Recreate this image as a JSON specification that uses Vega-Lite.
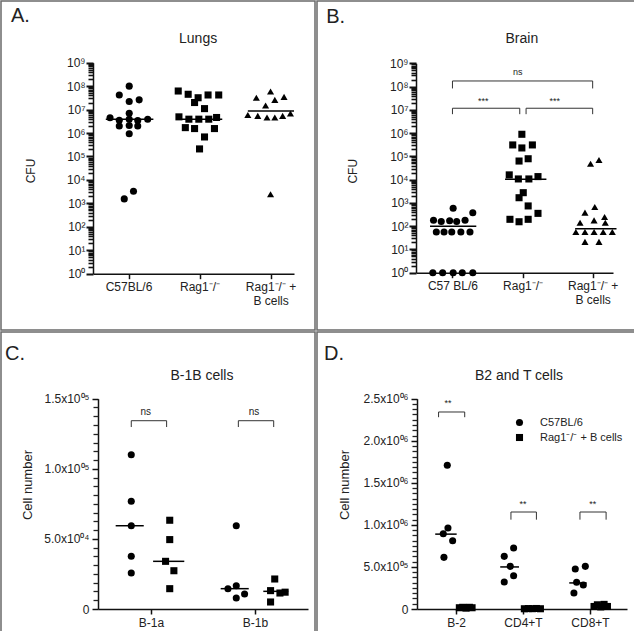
{
  "$schema": "https://vega.github.io/schema/vega-lite/v6.json",
  "padding": 0,
  "spacing": 0,
  "background": "white",
  "config": {
    "font": "Liberation Sans",
    "view": {"stroke": "#6a6a6a", "strokeWidth": 1.5},
    "concat": {"spacing": 0},
    "axis": {"labelFont": "Liberation Sans", "labelColor": "#222", "domainColor": "#111", "tickColor": "#111", "grid": false, "labelOverlap": false, "labelFlush": false, "labelBound": false, "domainWidth": 1.5, "tickWidth": 1.5, "title": null},
    "text": {"font": "Liberation Sans", "color": "#222"}
  },
  "resolve": {"scale": {"shape": "independent"}, "legend": {"shape": "independent"}},
  "vconcat": [
    {
      "spacing": 0,
      "resolve": {"scale": {"shape": "independent"}, "legend": {"shape": "independent"}},
      "hconcat": [
        {
          "width": 314,
          "height": 329,
          "resolve": {"axis": {"y": "independent"}},
          "encoding": {
            "x": {"field": "pos", "type": "quantitative",
              "scale": {"domain": [0.5, 3.33], "range": [92, 293], "nice": false, "zero": false},
              "axis": {"orient": "bottom", "offset": -56.3, "values": [1, 2, 3], "tickSize": 5, "tickColor": "#111", "labelFontSize": 12, "labelPadding": 3,
                "labelExpr": "datum.value == 1 ? 'C57BL/6' : datum.value == 2 ? 'Rag1⁻/⁻' : ['Rag1⁻/⁻ +', 'B cells']"}},
            "y": {"field": "val", "type": "quantitative",
              "scale": {"type": "log", "domain": [1, 1e9], "range": [272.7, 61.7], "nice": false},
              "axis": null}
          },
          "layer": [
            {
              "data": {"values": [
                {"group": "C57BL/6", "pos": 1.01, "val": 1.0e8},
                {"group": "C57BL/6", "pos": 0.87, "val": 4.2e7},
                {"group": "C57BL/6", "pos": 1.15, "val": 2.6e7},
                {"group": "C57BL/6", "pos": 1.01, "val": 2.2e7},
                {"group": "C57BL/6", "pos": 1.01, "val": 6.9e6},
                {"group": "C57BL/6", "pos": 0.74, "val": 4.5e6},
                {"group": "C57BL/6", "pos": 0.87, "val": 3.5e6},
                {"group": "C57BL/6", "pos": 1.01, "val": 3.9e6},
                {"group": "C57BL/6", "pos": 1.13, "val": 3.4e6},
                {"group": "C57BL/6", "pos": 1.27, "val": 3.9e6},
                {"group": "C57BL/6", "pos": 0.87, "val": 2.0e6},
                {"group": "C57BL/6", "pos": 1.01, "val": 2.1e6},
                {"group": "C57BL/6", "pos": 1.13, "val": 2.0e6},
                {"group": "C57BL/6", "pos": 1.01, "val": 9.3e5},
                {"group": "C57BL/6", "pos": 0.94, "val": 1.55e3},
                {"group": "C57BL/6", "pos": 1.07, "val": 3.3e3},
                {"group": "Rag1⁻/⁻", "pos": 1.70, "val": 6.2e7},
                {"group": "Rag1⁻/⁻", "pos": 1.84, "val": 4.5e7},
                {"group": "Rag1⁻/⁻", "pos": 1.98, "val": 3.2e7},
                {"group": "Rag1⁻/⁻", "pos": 2.12, "val": 4.2e7},
                {"group": "Rag1⁻/⁻", "pos": 2.27, "val": 4.2e7},
                {"group": "Rag1⁻/⁻", "pos": 1.93, "val": 2.0e7},
                {"group": "Rag1⁻/⁻", "pos": 2.07, "val": 1.1e7},
                {"group": "Rag1⁻/⁻", "pos": 1.71, "val": 4.9e6},
                {"group": "Rag1⁻/⁻", "pos": 1.85, "val": 3.9e6},
                {"group": "Rag1⁻/⁻", "pos": 1.99, "val": 3.9e6},
                {"group": "Rag1⁻/⁻", "pos": 2.13, "val": 3.9e6},
                {"group": "Rag1⁻/⁻", "pos": 2.24, "val": 4.6e6},
                {"group": "Rag1⁻/⁻", "pos": 1.80, "val": 1.7e6},
                {"group": "Rag1⁻/⁻", "pos": 1.93, "val": 1.55e6},
                {"group": "Rag1⁻/⁻", "pos": 2.21, "val": 1.55e6},
                {"group": "Rag1⁻/⁻", "pos": 2.07, "val": 6.8e5},
                {"group": "Rag1⁻/⁻", "pos": 2.00, "val": 2.1e5},
                {"group": "Rag1⁻/⁻ + B cells", "pos": 3.00, "val": 5.9e7},
                {"group": "Rag1⁻/⁻ + B cells", "pos": 2.80, "val": 3.2e7},
                {"group": "Rag1⁻/⁻ + B cells", "pos": 3.06, "val": 2.6e7},
                {"group": "Rag1⁻/⁻ + B cells", "pos": 3.19, "val": 3.5e7},
                {"group": "Rag1⁻/⁻ + B cells", "pos": 2.93, "val": 1.5e7},
                {"group": "Rag1⁻/⁻ + B cells", "pos": 2.68, "val": 5.9e6},
                {"group": "Rag1⁻/⁻ + B cells", "pos": 2.82, "val": 5.4e6},
                {"group": "Rag1⁻/⁻ + B cells", "pos": 2.95, "val": 4.6e6},
                {"group": "Rag1⁻/⁻ + B cells", "pos": 3.06, "val": 4.6e6},
                {"group": "Rag1⁻/⁻ + B cells", "pos": 3.17, "val": 5.4e6},
                {"group": "Rag1⁻/⁻ + B cells", "pos": 3.28, "val": 6.8e6},
                {"group": "Rag1⁻/⁻ + B cells", "pos": 3.00, "val": 2.45e3}
              ]},
              "mark": {"type": "point", "filled": true, "color": "#000", "opacity": 1, "size": 50},
              "encoding": {
                "y": {"field": "val", "type": "quantitative",
                  "scale": {"type": "log", "domain": [1, 1e9], "range": [272.7, 61.7], "nice": false},
                  "axis": {"orient": "left", "offset": -92, "labelFontSize": 12, "labelPadding": 1, "tickSize": 7, "tickWidth": 2, "tickColor": "#111",
                    "values": [1, 10, 100, 1000, 1e4, 1e5, 1e6, 1e7, 1e8, 1e9],
                    "labelExpr": "'10' + substring('⁰¹²³⁴⁵⁶⁷⁸⁹', round(log(datum.value)/LN10), round(log(datum.value)/LN10) + 1)"}},
                "shape": {"field": "group", "type": "nominal", "legend": null,
                  "scale": {"domain": ["C57BL/6", "Rag1⁻/⁻", "Rag1⁻/⁻ + B cells"], "range": ["circle", "square", "triangle-up"]}}
              }
            },
            {
              "data": {"values": [
                {"pos": 0.68, "pos2": 1.35, "val": 3.9e6},
                {"pos": 1.69, "pos2": 2.32, "val": 3.9e6},
                {"pos": 2.68, "pos2": 3.33, "val": 8.7e6}
              ]},
              "mark": {"type": "rule", "color": "#000", "strokeWidth": 1.5},
              "encoding": {
                "x2": {"field": "pos2"},
                "y": {"field": "val", "type": "quantitative",
                  "scale": {"type": "log", "domain": [1, 1e9], "range": [272.7, 61.7], "nice": false},
                  "axis": {"orient": "left", "offset": -92, "labels": false, "domain": false, "tickSize": 5, "tickWidth": 1.6, "tickColor": "#111",
                    "values": [2,3,4,5,6,7,8,9,20,30,40,50,60,70,80,90,200,300,400,500,600,700,800,900,2000,3000,4000,5000,6000,7000,8000,9000,2e4,3e4,4e4,5e4,6e4,7e4,8e4,9e4,2e5,3e5,4e5,5e5,6e5,7e5,8e5,9e5,2e6,3e6,4e6,5e6,6e6,7e6,8e6,9e6,2e7,3e7,4e7,5e7,6e7,7e7,8e7,9e7,2e8,3e8,4e8,5e8,6e8,7e8,8e8,9e8]}}
              }
            },
            {
              "data": {"values": [{"label": "A.", "pos": -0.655, "val": 1e11}]},
              "mark": {"type": "text", "align": "left", "baseline": "middle", "fontSize": 20},
              "encoding": {"text": {"field": "label"}}
            },
            {
              "data": {"values": [{"label": "Lungs", "pos": 1.98, "val": 1.03e10}]},
              "mark": {"type": "text", "align": "center", "baseline": "middle", "fontSize": 14},
              "encoding": {"text": {"field": "label"}}
            },
            {
              "data": {"values": [{"label": "CFU", "pos": -0.373, "val": 2.4e4}]},
              "mark": {"type": "text", "align": "center", "baseline": "middle", "fontSize": 12, "angle": 270},
              "encoding": {"text": {"field": "label"}}
            }
          ]
        },
        {
          "width": 320,
          "height": 329,
          "resolve": {"axis": {"y": "independent"}},
          "encoding": {
            "x": {"field": "pos", "type": "quantitative",
              "scale": {"domain": [0.48, 3.29], "range": [99, 296], "nice": false, "zero": false},
              "axis": {"orient": "bottom", "offset": -57.3, "values": [1, 2, 3], "tickSize": 5, "tickColor": "#111", "labelFontSize": 12, "labelPadding": 3,
                "labelExpr": "datum.value == 1 ? 'C57 BL/6' : datum.value == 2 ? 'Rag1⁻/⁻' : ['Rag1⁻/⁻ +', 'B cells']"}},
            "y": {"field": "val", "type": "quantitative",
              "scale": {"type": "log", "domain": [1, 1e9], "range": [271.7, 62.3], "nice": false},
              "axis": null}
          },
          "layer": [
            {
              "data": {"values": [
                {"group": "C57BL/6", "pos": 0.72, "val": 1},
                {"group": "C57BL/6", "pos": 0.86, "val": 1},
                {"group": "C57BL/6", "pos": 1.01, "val": 1},
                {"group": "C57BL/6", "pos": 1.14, "val": 1},
                {"group": "C57BL/6", "pos": 1.29, "val": 1},
                {"group": "C57BL/6", "pos": 0.77, "val": 56},
                {"group": "C57BL/6", "pos": 0.88, "val": 56},
                {"group": "C57BL/6", "pos": 0.99, "val": 56},
                {"group": "C57BL/6", "pos": 1.12, "val": 56},
                {"group": "C57BL/6", "pos": 1.25, "val": 56},
                {"group": "C57BL/6", "pos": 0.73, "val": 180},
                {"group": "C57BL/6", "pos": 0.84, "val": 160},
                {"group": "C57BL/6", "pos": 0.96, "val": 170},
                {"group": "C57BL/6", "pos": 1.06, "val": 160},
                {"group": "C57BL/6", "pos": 1.18, "val": 180},
                {"group": "C57BL/6", "pos": 1.01, "val": 590},
                {"group": "C57BL/6", "pos": 1.29, "val": 380},
                {"group": "Rag1⁻/⁻", "pos": 1.99, "val": 8.9e5},
                {"group": "Rag1⁻/⁻", "pos": 1.86, "val": 3.1e5},
                {"group": "Rag1⁻/⁻", "pos": 2.14, "val": 3.1e5},
                {"group": "Rag1⁻/⁻", "pos": 1.99, "val": 2.3e5},
                {"group": "Rag1⁻/⁻", "pos": 1.95, "val": 6.3e4},
                {"group": "Rag1⁻/⁻", "pos": 2.08, "val": 7.9e4},
                {"group": "Rag1⁻/⁻", "pos": 1.81, "val": 1.6e4},
                {"group": "Rag1⁻/⁻", "pos": 1.94, "val": 1.07e4},
                {"group": "Rag1⁻/⁻", "pos": 2.09, "val": 1.07e4},
                {"group": "Rag1⁻/⁻", "pos": 2.22, "val": 1.35e4},
                {"group": "Rag1⁻/⁻", "pos": 2.01, "val": 2750},
                {"group": "Rag1⁻/⁻", "pos": 1.95, "val": 1670},
                {"group": "Rag1⁻/⁻", "pos": 2.08, "val": 740},
                {"group": "Rag1⁻/⁻", "pos": 2.22, "val": 355},
                {"group": "Rag1⁻/⁻", "pos": 1.82, "val": 197},
                {"group": "Rag1⁻/⁻", "pos": 1.95, "val": 155},
                {"group": "Rag1⁻/⁻", "pos": 2.08, "val": 197},
                {"group": "Rag1⁻/⁻ + B cells", "pos": 2.97, "val": 4.8e4},
                {"group": "Rag1⁻/⁻ + B cells", "pos": 3.09, "val": 7.0e4},
                {"group": "Rag1⁻/⁻ + B cells", "pos": 3.03, "val": 665},
                {"group": "Rag1⁻/⁻ + B cells", "pos": 2.89, "val": 380},
                {"group": "Rag1⁻/⁻ + B cells", "pos": 3.17, "val": 247},
                {"group": "Rag1⁻/⁻ + B cells", "pos": 3.02, "val": 178},
                {"group": "Rag1⁻/⁻ + B cells", "pos": 2.82, "val": 141},
                {"group": "Rag1⁻/⁻ + B cells", "pos": 3.18, "val": 141},
                {"group": "Rag1⁻/⁻ + B cells", "pos": 2.76, "val": 56},
                {"group": "Rag1⁻/⁻ + B cells", "pos": 2.89, "val": 56},
                {"group": "Rag1⁻/⁻ + B cells", "pos": 3.02, "val": 56},
                {"group": "Rag1⁻/⁻ + B cells", "pos": 3.15, "val": 56},
                {"group": "Rag1⁻/⁻ + B cells", "pos": 3.28, "val": 56},
                {"group": "Rag1⁻/⁻ + B cells", "pos": 2.89, "val": 21},
                {"group": "Rag1⁻/⁻ + B cells", "pos": 3.09, "val": 21}
              ]},
              "mark": {"type": "point", "filled": true, "color": "#000", "opacity": 1, "size": 50},
              "encoding": {
                "y": {"field": "val", "type": "quantitative",
                  "scale": {"type": "log", "domain": [1, 1e9], "range": [271.7, 62.3], "nice": false},
                  "axis": {"orient": "left", "offset": -99, "labelFontSize": 12, "labelPadding": 1, "tickSize": 7, "tickWidth": 2, "tickColor": "#111",
                    "values": [1, 10, 100, 1000, 1e4, 1e5, 1e6, 1e7, 1e8, 1e9],
                    "labelExpr": "'10' + substring('⁰¹²³⁴⁵⁶⁷⁸⁹', round(log(datum.value)/LN10), round(log(datum.value)/LN10) + 1)"}},
                "shape": {"field": "group", "type": "nominal", "legend": null,
                  "scale": {"domain": ["C57BL/6", "Rag1⁻/⁻", "Rag1⁻/⁻ + B cells"], "range": ["circle", "square", "triangle-up"]}}
              }
            },
            {
              "data": {"values": [
                {"pos": 0.68, "pos2": 1.34, "val": 100},
                {"pos": 1.75, "pos2": 2.34, "val": 1.03e4},
                {"pos": 2.75, "pos2": 3.34, "val": 78}
              ]},
              "mark": {"type": "rule", "color": "#000", "strokeWidth": 1.5},
              "encoding": {
                "x2": {"field": "pos2"},
                "y": {"field": "val", "type": "quantitative",
                  "scale": {"type": "log", "domain": [1, 1e9], "range": [271.7, 62.3], "nice": false},
                  "axis": {"orient": "left", "offset": -99, "labels": false, "domain": false, "tickSize": 5, "tickWidth": 1.6, "tickColor": "#111",
                    "values": [2,3,4,5,6,7,8,9,20,30,40,50,60,70,80,90,200,300,400,500,600,700,800,900,2000,3000,4000,5000,6000,7000,8000,9000,2e4,3e4,4e4,5e4,6e4,7e4,8e4,9e4,2e5,3e5,4e5,5e5,6e5,7e5,8e5,9e5,2e6,3e6,4e6,5e6,6e6,7e6,8e6,9e6,2e7,3e7,4e7,5e7,6e7,7e7,8e7,9e7,2e8,3e8,4e8,5e8,6e8,7e8,8e8,9e8]}}
              }
            },
            {
              "data": {"values": [
                {"pos": 1.0, "pos2": 3.0, "val": 1.74e8, "val2": 1.74e8},
                {"pos": 1.0, "pos2": 1.0, "val": 1.74e8, "val2": 8.3e7},
                {"pos": 3.0, "pos2": 3.0, "val": 1.74e8, "val2": 8.3e7},
                {"pos": 1.0, "pos2": 1.96, "val": 1.17e7, "val2": 1.17e7},
                {"pos": 1.0, "pos2": 1.0, "val": 1.17e7, "val2": 6.5e6},
                {"pos": 1.96, "pos2": 1.96, "val": 1.17e7, "val2": 6.5e6},
                {"pos": 2.05, "pos2": 3.0, "val": 1.17e7, "val2": 1.17e7},
                {"pos": 2.05, "pos2": 2.05, "val": 1.17e7, "val2": 6.5e6},
                {"pos": 3.0, "pos2": 3.0, "val": 1.17e7, "val2": 6.5e6}
              ]},
              "mark": {"type": "rule", "color": "#333", "strokeWidth": 1},
              "encoding": {"x2": {"field": "pos2"}, "y2": {"field": "val2"}}
            },
            {
              "data": {"values": [
                {"label": "ns", "pos": 1.93, "val": 4.2e8},
                {"label": "***", "pos": 1.44, "val": 2.4e7},
                {"label": "***", "pos": 2.46, "val": 2.4e7}
              ]},
              "mark": {"type": "text", "align": "center", "baseline": "middle", "fontSize": 9},
              "encoding": {"text": {"field": "label"}}
            },
            {
              "data": {"values": [{"label": "B.", "pos": -0.80, "val": 1e11}]},
              "mark": {"type": "text", "align": "left", "baseline": "middle", "fontSize": 20},
              "encoding": {"text": {"field": "label"}}
            },
            {
              "data": {"values": [{"label": "Brain", "pos": 1.99, "val": 1.1e10}]},
              "mark": {"type": "text", "align": "center", "baseline": "middle", "fontSize": 14},
              "encoding": {"text": {"field": "label"}}
            },
            {
              "data": {"values": [{"label": "CFU", "pos": -0.42, "val": 2.3e4}]},
              "mark": {"type": "text", "align": "center", "baseline": "middle", "fontSize": 12, "angle": 270},
              "encoding": {"text": {"field": "label"}}
            }
          ]
        }
      ]
    },
    {
      "spacing": 0,
      "resolve": {"scale": {"shape": "independent"}, "legend": {"shape": "independent"}},
      "hconcat": [
        {
          "width": 314,
          "height": 302,
          "resolve": {"axis": {"y": "independent"}},
          "encoding": {
            "x": {"field": "pos", "type": "quantitative",
              "scale": {"domain": [0.49, 2.51], "range": [97, 307], "nice": false, "zero": false},
              "axis": {"orient": "bottom", "offset": -25, "values": [1, 2], "tickSize": 5, "tickColor": "#111", "labelFontSize": 12, "labelPadding": 3,
                "labelExpr": "datum.value == 1 ? 'B-1a' : 'B-1b'"}},
            "y": {"field": "val", "type": "quantitative",
              "scale": {"domain": [0, 150000], "range": [277, 66.7], "nice": false, "zero": false},
              "axis": null}
          },
          "layer": [
            {
              "data": {"values": [
                {"group": "C57BL/6", "pos": 0.81, "val": 110000},
                {"group": "C57BL/6", "pos": 0.81, "val": 76800},
                {"group": "C57BL/6", "pos": 0.81, "val": 59400},
                {"group": "C57BL/6", "pos": 0.81, "val": 37600},
                {"group": "C57BL/6", "pos": 0.81, "val": 25700},
                {"group": "C57BL/6", "pos": 1.82, "val": 59400},
                {"group": "C57BL/6", "pos": 1.82, "val": 16600},
                {"group": "C57BL/6", "pos": 1.74, "val": 14500},
                {"group": "C57BL/6", "pos": 1.90, "val": 10700},
                {"group": "C57BL/6", "pos": 1.82, "val": 7800},
                {"group": "Rag1⁻/⁻ + B cells", "pos": 1.18, "val": 63300},
                {"group": "Rag1⁻/⁻ + B cells", "pos": 1.18, "val": 49500},
                {"group": "Rag1⁻/⁻ + B cells", "pos": 1.14, "val": 34000},
                {"group": "Rag1⁻/⁻ + B cells", "pos": 1.22, "val": 27300},
                {"group": "Rag1⁻/⁻ + B cells", "pos": 1.18, "val": 14500},
                {"group": "Rag1⁻/⁻ + B cells", "pos": 2.19, "val": 21400},
                {"group": "Rag1⁻/⁻ + B cells", "pos": 2.15, "val": 13100},
                {"group": "Rag1⁻/⁻ + B cells", "pos": 2.24, "val": 11400},
                {"group": "Rag1⁻/⁻ + B cells", "pos": 2.29, "val": 12000},
                {"group": "Rag1⁻/⁻ + B cells", "pos": 2.15, "val": 5000}
              ]},
              "mark": {"type": "point", "filled": true, "color": "#000", "opacity": 1, "size": 50},
              "encoding": {
                "y": {"field": "val", "type": "quantitative",
                  "scale": {"domain": [0, 150000], "range": [277, 66.7], "nice": false, "zero": false},
                  "axis": {"orient": "left", "offset": -97, "labelFontSize": 12, "labelPadding": 3, "tickSize": 6, "tickWidth": 1.5, "tickColor": "#111",
                    "values": [0, 50000, 100000, 150000],
                    "labelExpr": "datum.value == 0 ? '0' : datum.value == 50000 ? '5.0x10⁰⁴' : datum.value == 100000 ? '1.0x10⁰⁵' : '1.5x10⁰⁵'"}},
                "shape": {"field": "group", "type": "nominal", "legend": null,
                  "scale": {"domain": ["C57BL/6", "Rag1⁻/⁻ + B cells"], "range": ["circle", "square"]}}
              }
            },
            {
              "data": {"values": [
                {"pos": 0.66, "pos2": 0.93, "val": 59400},
                {"pos": 1.02, "pos2": 1.32, "val": 34000},
                {"pos": 1.67, "pos2": 1.94, "val": 14500},
                {"pos": 2.08, "pos2": 2.32, "val": 12600}
              ]},
              "mark": {"type": "rule", "color": "#000", "strokeWidth": 1.5},
              "encoding": {
                "x2": {"field": "pos2"},
                "y": {"field": "val", "type": "quantitative",
                  "scale": {"domain": [0, 150000], "range": [277, 66.7], "nice": false, "zero": false},
                  "axis": {"orient": "left", "offset": -97, "labels": false, "domain": false, "tickSize": 5, "tickWidth": 1.3, "tickColor": "#222",
                    "values": [6250,12500,18750,25000,31250,37500,43750,56250,62500,68750,75000,81250,87500,93750,106250,112500,118750,125000,131250,137500,143750]}}
              }
            },
            {
              "data": {"values": [
                {"pos": 0.81, "pos2": 1.15, "val": 134300, "val2": 134300},
                {"pos": 0.81, "pos2": 0.81, "val": 134300, "val2": 129800},
                {"pos": 1.15, "pos2": 1.15, "val": 134300, "val2": 129800},
                {"pos": 1.84, "pos2": 2.18, "val": 134300, "val2": 134300},
                {"pos": 1.84, "pos2": 1.84, "val": 134300, "val2": 129800},
                {"pos": 2.18, "pos2": 2.18, "val": 134300, "val2": 129800}
              ]},
              "mark": {"type": "rule", "color": "#333", "strokeWidth": 1},
              "encoding": {"x2": {"field": "pos2"}, "y2": {"field": "val2"}}
            },
            {
              "data": {"values": [
                {"label": "ns", "pos": 0.95, "val": 140500},
                {"label": "ns", "pos": 1.99, "val": 140500}
              ]},
              "mark": {"type": "text", "align": "center", "baseline": "middle", "fontSize": 10},
              "encoding": {"text": {"field": "label"}}
            },
            {
              "data": {"values": [{"label": "C.", "pos": -0.404, "val": 181900}]},
              "mark": {"type": "text", "align": "left", "baseline": "middle", "fontSize": 20},
              "encoding": {"text": {"field": "label"}}
            },
            {
              "data": {"values": [{"label": "B-1B cells", "pos": 1.49, "val": 166200}]},
              "mark": {"type": "text", "align": "center", "baseline": "middle", "fontSize": 14},
              "encoding": {"text": {"field": "label"}}
            },
            {
              "data": {"values": [{"label": "Cell number", "pos": -0.183, "val": 88400}]},
              "mark": {"type": "text", "align": "center", "baseline": "middle", "fontSize": 13, "angle": 270},
              "encoding": {"text": {"field": "label"}}
            }
          ]
        },
        {
          "width": 320,
          "height": 302,
          "resolve": {"axis": {"y": "independent"}},
          "encoding": {
            "x": {"field": "pos", "type": "quantitative",
              "scale": {"domain": [0.418, 3.552], "range": [100, 310], "nice": false, "zero": false},
              "axis": {"orient": "bottom", "offset": -25, "values": [1, 2, 3], "tickSize": 5, "tickColor": "#111", "labelFontSize": 12, "labelPadding": 3,
                "labelExpr": "datum.value == 1 ? 'B-2' : datum.value == 2 ? 'CD4+T' : 'CD8+T'"}},
            "y": {"field": "val", "type": "quantitative",
              "scale": {"domain": [0, 2500000], "range": [277, 66.7], "nice": false, "zero": false},
              "axis": null}
          },
          "layer": [
            {
              "data": {"values": [
                {"group": "C57BL/6", "pos": 0.87, "val": 1708000},
                {"group": "C57BL/6", "pos": 0.88, "val": 963000},
                {"group": "C57BL/6", "pos": 0.81, "val": 895000},
                {"group": "C57BL/6", "pos": 0.95, "val": 812000},
                {"group": "C57BL/6", "pos": 0.82, "val": 614000},
                {"group": "C57BL/6", "pos": 1.86, "val": 725000},
                {"group": "C57BL/6", "pos": 1.72, "val": 626000},
                {"group": "C57BL/6", "pos": 1.81, "val": 507000},
                {"group": "C57BL/6", "pos": 1.86, "val": 396000},
                {"group": "C57BL/6", "pos": 1.72, "val": 321000},
                {"group": "C57BL/6", "pos": 2.93, "val": 507000},
                {"group": "C57BL/6", "pos": 2.78, "val": 475000},
                {"group": "C57BL/6", "pos": 2.80, "val": 317000},
                {"group": "C57BL/6", "pos": 2.90, "val": 285000},
                {"group": "C57BL/6", "pos": 2.76, "val": 190000},
                {"group": "Rag1⁻/⁻ + B cells", "pos": 1.05, "val": 15000},
                {"group": "Rag1⁻/⁻ + B cells", "pos": 1.10, "val": 20000},
                {"group": "Rag1⁻/⁻ + B cells", "pos": 1.15, "val": 10000},
                {"group": "Rag1⁻/⁻ + B cells", "pos": 1.20, "val": 20000},
                {"group": "Rag1⁻/⁻ + B cells", "pos": 1.24, "val": 15000},
                {"group": "Rag1⁻/⁻ + B cells", "pos": 2.02, "val": 3000},
                {"group": "Rag1⁻/⁻ + B cells", "pos": 2.08, "val": 5000},
                {"group": "Rag1⁻/⁻ + B cells", "pos": 2.14, "val": 4000},
                {"group": "Rag1⁻/⁻ + B cells", "pos": 2.20, "val": 6000},
                {"group": "Rag1⁻/⁻ + B cells", "pos": 2.26, "val": 3000},
                {"group": "Rag1⁻/⁻ + B cells", "pos": 3.06, "val": 30000},
                {"group": "Rag1⁻/⁻ + B cells", "pos": 3.11, "val": 50000},
                {"group": "Rag1⁻/⁻ + B cells", "pos": 3.16, "val": 25000},
                {"group": "Rag1⁻/⁻ + B cells", "pos": 3.21, "val": 55000},
                {"group": "Rag1⁻/⁻ + B cells", "pos": 3.26, "val": 30000}
              ]},
              "mark": {"type": "point", "filled": true, "color": "#000", "opacity": 1, "size": 50},
              "encoding": {
                "y": {"field": "val", "type": "quantitative",
                  "scale": {"domain": [0, 2500000], "range": [277, 66.7], "nice": false, "zero": false},
                  "axis": {"orient": "left", "offset": -100, "labelFontSize": 12, "labelPadding": 3, "tickSize": 6, "tickWidth": 1.5, "tickColor": "#111",
                    "values": [0, 500000, 1000000, 1500000, 2000000, 2500000],
                    "labelExpr": "datum.value == 0 ? '0' : datum.value == 500000 ? '5.0x10⁰⁵' : datum.value == 1000000 ? '1.0x10⁰⁶' : datum.value == 1500000 ? '1.5x10⁰⁶' : datum.value == 2000000 ? '2.0x10⁰⁶' : '2.5x10⁰⁶'"}},
                "shape": {"field": "group", "type": "nominal",
                  "scale": {"domain": ["C57BL/6", "Rag1⁻/⁻ + B cells"], "range": ["circle", "square"]},
                  "legend": {"orient": "none", "legendX": 197, "legendY": 85, "title": null, "padding": 0, "labelFontSize": 11, "labelColor": "#222", "labelFont": "Liberation Sans", "symbolSize": 50, "symbolFillColor": "#000", "symbolStrokeWidth": 0, "labelOffset": 15, "rowPadding": 3}}
              }
            },
            {
              "data": {"values": [
                {"pos": 0.69, "pos2": 1.01, "val": 890000},
                {"pos": 1.02, "pos2": 1.27, "val": 15000},
                {"pos": 1.66, "pos2": 1.94, "val": 500000},
                {"pos": 1.98, "pos2": 2.30, "val": 4000},
                {"pos": 2.69, "pos2": 2.95, "val": 310000},
                {"pos": 3.03, "pos2": 3.28, "val": 40000}
              ]},
              "mark": {"type": "rule", "color": "#000", "strokeWidth": 1.5},
              "encoding": {
                "x2": {"field": "pos2"},
                "y": {"field": "val", "type": "quantitative",
                  "scale": {"domain": [0, 2500000], "range": [277, 66.7], "nice": false, "zero": false},
                  "axis": {"orient": "left", "offset": -100, "labels": false, "domain": false, "tickSize": 5, "tickWidth": 1.3, "tickColor": "#222",
                    "values": [62500,125000,187500,250000,312500,375000,437500,562500,625000,687500,750000,812500,875000,937500,1062500,1125000,1187500,1250000,1312500,1375000,1437500,1562500,1625000,1687500,1750000,1812500,1875000,1937500,2062500,2125000,2187500,2250000,2312500,2375000,2437500]}}
              }
            },
            {
              "data": {"values": [
                {"pos": 0.74, "pos2": 1.13, "val": 2342000, "val2": 2342000},
                {"pos": 0.74, "pos2": 0.74, "val": 2342000, "val2": 2280000},
                {"pos": 1.13, "pos2": 1.13, "val": 2342000, "val2": 2280000},
                {"pos": 1.82, "pos2": 2.20, "val": 1153000, "val2": 1153000},
                {"pos": 1.82, "pos2": 1.82, "val": 1153000, "val2": 1062000},
                {"pos": 2.20, "pos2": 2.20, "val": 1153000, "val2": 1062000},
                {"pos": 2.85, "pos2": 3.24, "val": 1153000, "val2": 1153000},
                {"pos": 2.85, "pos2": 2.85, "val": 1153000, "val2": 1062000},
                {"pos": 3.24, "pos2": 3.24, "val": 1153000, "val2": 1062000}
              ]},
              "mark": {"type": "rule", "color": "#333", "strokeWidth": 1},
              "encoding": {"x2": {"field": "pos2"}, "y2": {"field": "val2"}}
            },
            {
              "data": {"values": [
                {"label": "**", "pos": 0.88, "val": 2450000},
                {"label": "**", "pos": 2.0, "val": 1250000},
                {"label": "**", "pos": 3.04, "val": 1250000}
              ]},
              "mark": {"type": "text", "align": "center", "baseline": "middle", "fontSize": 9},
              "encoding": {"text": {"field": "label"}}
            },
            {
              "data": {"values": [{"label": "D.", "pos": -0.97, "val": 3030000}]},
              "mark": {"type": "text", "align": "left", "baseline": "middle", "fontSize": 20},
              "encoding": {"text": {"field": "label"}}
            },
            {
              "data": {"values": [{"label": "B2 and T cells", "pos": 1.94, "val": 2770000}]},
              "mark": {"type": "text", "align": "center", "baseline": "middle", "fontSize": 14},
              "encoding": {"text": {"field": "label"}}
            },
            {
              "data": {"values": [{"label": "Cell number", "pos": -0.657, "val": 1474000}]},
              "mark": {"type": "text", "align": "center", "baseline": "middle", "fontSize": 13, "angle": 270},
              "encoding": {"text": {"field": "label"}}
            }
          ]
        }
      ]
    }
  ]
}
